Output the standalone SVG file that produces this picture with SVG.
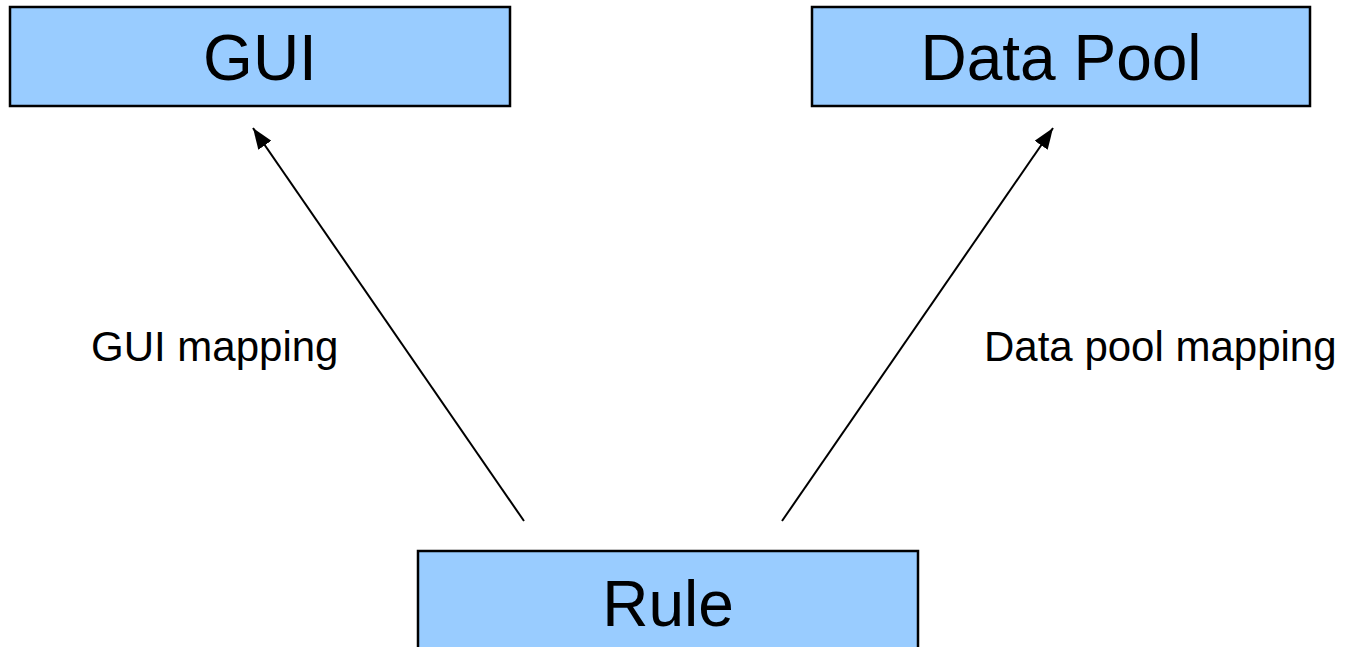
<svg xmlns="http://www.w3.org/2000/svg" width="1345" height="647" viewBox="0 0 1345 647">
  <style>
    .box { fill: #99CCFF; stroke: #000000; stroke-width: 2.5; }
    .title { font-family: "Liberation Sans", Arial, sans-serif; font-size: 64px; fill: #000000; text-anchor: middle; }
    .label { font-family: "Liberation Sans", Arial, sans-serif; font-size: 42px; fill: #000000; }
    .conn { stroke: #000000; stroke-width: 2; fill: none; marker-end: url(#arrow); }
  </style>
  <defs>
    <marker id="arrow" markerUnits="userSpaceOnUse" markerWidth="22" markerHeight="16" refX="21" refY="8" orient="auto">
      <path d="M0,0 L21,8 L0,16 Z" fill="#000000"/>
    </marker>
  </defs>
  <rect width="1345" height="647" fill="#ffffff"/>
  <g id="gui">
    <rect class="box" x="10" y="7" width="500" height="99"/>
    <text class="title" x="260" y="80">GUI</text>
  </g>
  <g id="datapool">
    <rect class="box" x="812" y="7" width="498" height="99"/>
    <text class="title" x="1061" y="80">Data Pool</text>
  </g>
  <g id="rule">
    <rect class="box" x="418" y="551" width="500" height="110"/>
    <text class="title" x="668" y="626">Rule</text>
  </g>
  <g id="connectors">
    <line class="conn" x1="524" y1="521" x2="253" y2="128"/>
    <line class="conn" x1="782" y1="521" x2="1053" y2="128"/>
    <text class="label" x="91" y="361">GUI mapping</text>
    <text class="label" x="984" y="361">Data pool mapping</text>
  </g>
</svg>
